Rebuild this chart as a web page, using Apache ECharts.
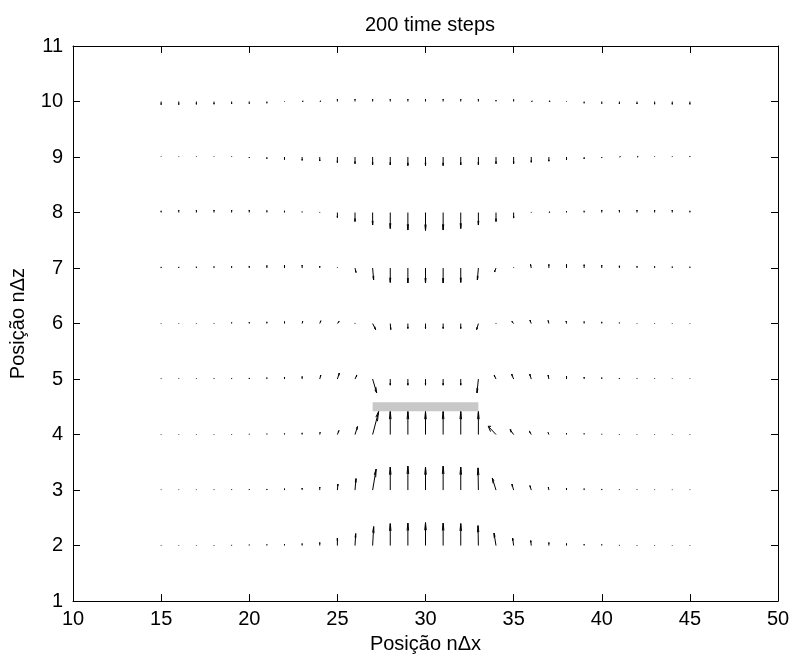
<!DOCTYPE html>
<html><head><meta charset="utf-8">
<script src="https://cdn.jsdelivr.net/npm/echarts@6/dist/echarts.min.js"></script>
<style>html,body{margin:0;padding:0;background:#fff}#c{width:795px;height:659px}</style>
</head><body><div id="c"></div>
<script>
const xs = [15,16,17,18,19,20,21,22,23,24,25,26,27,28,29,30,31,32,33,34,35,36,37,38,39,40,41,42,43,44,45];
const zs = [2,3,4,5,6,7,8,9,10];
const xTicks = [10,15,20,25,30,35,40,45,50];
const zTicks = [1,2,3,4,5,6,7,8,9,10,11];
// horizontal components (x units), one row per z level
const U2  = [0,0,0,0,0,0,0,0,0,0,0,0.04,0.06,0,0,0,0,0,-0.02,-0.114,-0.057,-0.03,0,0,0,0,0,0,0,0,0];
const U3  = [0,0,0,0,0,0,0,0,0,0,0.03,0.057,0.2,0,0,0,0,0,-0.02,-0.21,-0.097,-0.074,-0.03,0,0,0,0,0,0,0,0];
const U4  = [0,0,0,0,0,0,0,0,0,0.02,0.085,0.142,0.34,0,0,0,0,0,0,-0.44,-0.2,-0.1,-0.04,0,0,0,0,0,0,0,0];
const U5  = [0,0,0,0,0,0,0,0,0,0.057,0.11,0.1,0.23,0,0,0,0,0,-0.08,-0.1,-0.11,-0.085,-0.04,0,0,0,0,0,0,0,0];
const U6  = [0,0,0,0,0,0,0,0,0.03,0.06,0.097,0,0.17,0.03,0,0,0,0,-0.097,0,-0.097,-0.074,-0.04,-0.02,0,0,0,0,0,0,0];
const U7  = [0,0,0,0,0,0,0,0,0,0,0,0.057,0.057,0,0,0,0,0,-0.057,-0.085,0,-0.04,0,0,0,0,0,0,0,0,0];
const U8  = [0,0,0,0,0,0,0,0,0,0,0,0,0,0,0,0,0,0,0,0,0,0,0.06,0,0,0,0,0,0,0,0];
const U9  = [0,0,0,0,0,0,0,0,0,0,0,0,0,0,0,0,0,0,0,0,0,0,0,0,0,0,0.05,0.06,0,0,0];
const U10 = [0,0,0,0,0,0,0,0,0.06,0.06,0,0,0,0,0,0,0,0,0,0,0,0.06,0.07,0,0,0,0,0,0,0,0];
// vertical components (z units)
const V2  = [0.008,0.008,0.008,0.01,0.012,0.015,0.02,0.025,0.035,0.055,0.135,0.216,0.342,0.396,0.405,0.414,0.405,0.396,0.36,0.225,0.135,0.09,0.054,0.036,0.025,0.02,0.012,0.01,0.008,0.008,0.008];
const V3  = [0.008,0.008,0.008,0.01,0.012,0.015,0.02,0.025,0.035,0.055,0.108,0.207,0.378,0.414,0.432,0.414,0.432,0.414,0.4,0.216,0.108,0.08,0.054,0.036,0.025,0.02,0.012,0.01,0.008,0.008,0.008];
const V4  = [0.008,0.008,0.008,0.008,0.01,0.012,0.015,0.02,0.03,0.04,0.072,0.144,0.414,0.414,0.414,0.414,0.414,0.414,0.414,0.15,0.09,0.06,0.036,0.025,0.02,0.012,0.01,0.008,0.008,0.008,0.008];
const V5  = [0.01,0.01,0.01,0.012,0.015,0.02,0.025,0.035,0.045,0.072,0.108,0.07,-0.25,-0.11,-0.11,-0.11,-0.11,-0.11,-0.25,0.07,0.09,0.09,0.072,0.054,0.036,0.025,0.018,0.012,0.01,0.008,0.008];
const V6  = [0.008,0.008,0.008,0.01,0.02,0.025,0.03,0.035,0.04,0.05,0.04,0.01,-0.108,-0.108,-0.09,-0.09,-0.09,-0.09,-0.108,0.01,0.04,0.063,0.054,0.045,0.035,0.03,0.015,0.008,0.008,0.008,0.008];
const V7  = [0.02,0.02,0.022,0.025,0.028,0.035,0.045,0.05,0.05,0.035,0.01,-0.08,-0.216,-0.26,-0.27,-0.27,-0.27,-0.26,-0.216,-0.072,0.01,0.065,0.065,0.065,0.06,0.05,0.04,0.032,0.027,0.024,0.022];
const V8  = [0.03,0.04,0.04,0.045,0.045,0.045,0.035,0.03,0.015,0.01,-0.09,-0.162,-0.225,-0.288,-0.315,-0.324,-0.315,-0.288,-0.225,-0.162,-0.1,0.01,0.01,0.022,0.03,0.045,0.045,0.045,0.045,0.045,0.03];
const V9  = [0.008,0.008,0.008,0.008,0.01,-0.018,-0.03,-0.045,-0.06,-0.072,-0.1,-0.12,-0.14,-0.144,-0.155,-0.155,-0.155,-0.144,-0.14,-0.12,-0.12,-0.095,-0.075,-0.05,-0.033,-0.018,0.008,0.008,0.008,0.01,0.015];
const V10 = [-0.055,-0.055,-0.05,-0.048,-0.04,-0.036,-0.03,0.008,0.008,0.008,0.04,0.04,0.04,0.04,0.04,0.04,0.04,0.04,0.04,0.025,0.035,0.008,0.008,0.008,-0.03,-0.036,-0.04,-0.045,-0.048,-0.05,-0.05];
const plateX = [27,33];
const plateZ = 4.5;

const Urows = [U2,U3,U4,U5,U6,U7,U8,U9,U10];
const Vrows = [V2,V3,V4,V5,V6,V7,V8,V9,V10];
const arrows = [];
zs.forEach((z,i)=>{ xs.forEach((x,j)=>{ arrows.push([x,z,Urows[i][j],Vrows[i][j]]); }); });

const FONT = 'Liberation Sans, Arial, Helvetica, sans-serif';
const FS = 20;
const alpha = 0.33, beta = 0.33;
const chart = echarts.init(document.getElementById('c'), null, {renderer:'canvas'});
const axisCommon = {
  axisLine:{show:true,onZero:false,lineStyle:{color:'#000',width:1}},
  axisTick:{show:true,inside:true,length:7,lineStyle:{color:'#000',width:1}},
  splitLine:{show:false}
};
chart.setOption({
  animation:false,
  backgroundColor:'#fff',
  title:{text:'200 time steps',left:425,top:10,textAlign:'center',
    textStyle:{fontFamily:FONT,fontSize:FS,fontWeight:'normal',color:'#000',lineHeight:20}},
  grid:{left:73,right:17,top:46,bottom:57,containLabel:false},
  xAxis:[
    Object.assign({},axisCommon,{type:'value',position:'bottom',min:10,max:50,interval:5,
      name:'Posição nΔx',nameLocation:'middle',nameGap:27,
      nameTextStyle:{fontFamily:FONT,fontSize:FS,color:'#000',lineHeight:20},
      axisLabel:{fontFamily:FONT,fontSize:FS,color:'#000',margin:8,lineHeight:20,
        formatter:v=> xTicks.includes(v)? String(v):''}}),
    Object.assign({},axisCommon,{type:'value',position:'top',min:10,max:50,interval:5,axisLabel:{show:false}})
  ],
  yAxis:[
    Object.assign({},axisCommon,{type:'value',position:'left',min:1,max:11,interval:1,
      name:'Posição nΔz',nameLocation:'middle',nameGap:45,nameRotate:90,
      nameTextStyle:{fontFamily:FONT,fontSize:FS,color:'#000',lineHeight:20},
      axisLabel:{fontFamily:FONT,fontSize:FS,color:'#000',margin:10,
        formatter:v=> zTicks.includes(v)? String(v):''}}),
    Object.assign({},axisCommon,{type:'value',position:'right',min:1,max:11,interval:1,axisLabel:{show:false}})
  ],
  series:[
    {type:'line',xAxisIndex:0,yAxisIndex:0,data:[[plateX[0],plateZ],[plateX[1],plateZ]],
      symbol:'none',lineStyle:{color:'#c8c8c8',width:9,cap:'butt'},z:1,silent:true},
    {type:'custom',xAxisIndex:0,yAxisIndex:0,data:arrows,z:2,silent:true,
      renderItem:function(params,api){
        const x=api.value(0), y=api.value(1), u=api.value(2), v=api.value(3);
        const p0=api.coord([x,y]);
        const p1=api.coord([x+u,y+v]);
        const h1=api.coord([x+u-alpha*(u+beta*(v+1e-9)), y+v-alpha*(v-beta*(u+1e-9))]);
        const h2=api.coord([x+u-alpha*(u-beta*(v+1e-9)), y+v-alpha*(v+beta*(u+1e-9))]);
        const st={stroke:'#000',lineWidth:1,fill:null};
        return {type:'group',children:[
          {type:'polyline',shape:{points:[p0,p1]},style:st},
          {type:'polyline',shape:{points:[h1,p1,h2]},style:st}
        ]};
      }}
  ]
});
</script></body></html>
